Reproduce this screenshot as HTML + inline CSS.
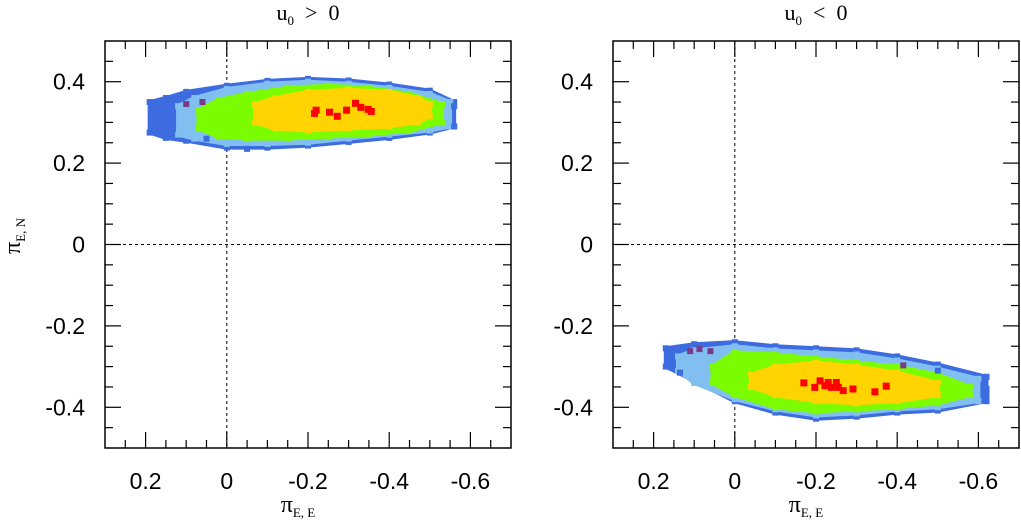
<!DOCTYPE html>
<html><head><meta charset="utf-8"><style>
body{margin:0;background:#fff;width:1021px;height:521px;overflow:hidden}
svg text{font-family:"Liberation Sans",sans-serif}
.ser{font-family:"Liberation Serif",serif}
</style></head><body>
<svg id="c" width="1021" height="521" viewBox="0 0 1021 521" xmlns="http://www.w3.org/2000/svg"></svg>
<script>
const xTicks=[0.2,0,-0.2,-0.4,-0.6];
const xTickLabels=["0.2","0","-0.2","-0.4","-0.6"];
const yTicks=[0.4,0.2,0,-0.2,-0.4];
const yTickLabels=["0.4","0.2","0","-0.2","-0.4"];
const levelNames=["dark-blue","light-blue","green","yellow"];
const levelColors=["#3d6be0","#80bff0","#7cfc00","#ffd400"];
// left panel (u0>0): columns [x, yTop, yBottom]
const leftDarkBlue=[[0.19,0.35,0.275],[0.15,0.36,0.262],[0.1,0.375,0.255],[0,0.39,0.238],[-0.1,0.402,0.238],[-0.2,0.407,0.243],[-0.3,0.403,0.252],[-0.4,0.393,0.262],[-0.5,0.378,0.275],[-0.56,0.35,0.29]];
const leftLightBlue=[[0.12,0.34,0.27],[0.08,0.36,0.26],[0,0.382,0.247],[-0.1,0.395,0.247],[-0.2,0.40,0.25],[-0.3,0.395,0.26],[-0.4,0.385,0.27],[-0.5,0.37,0.28],[-0.55,0.35,0.29]];
const leftGreen=[[0.07,0.33,0.285],[0.02,0.355,0.265],[-0.05,0.37,0.26],[-0.15,0.385,0.26],[-0.25,0.39,0.265],[-0.35,0.385,0.27],[-0.45,0.37,0.28],[-0.53,0.345,0.30]];
const leftYellow=[[-0.07,0.345,0.30],[-0.12,0.36,0.285],[-0.2,0.375,0.28],[-0.3,0.38,0.285],[-0.4,0.375,0.29],[-0.47,0.36,0.30],[-0.5,0.345,0.315]];
const leftRed=[[-0.22,0.33],[-0.216,0.322],[-0.253,0.325],[-0.272,0.315],[-0.295,0.33],[-0.317,0.347],[-0.33,0.337],[-0.348,0.332],[-0.356,0.327]];
const leftPurple=[[0.1,0.345],[0.06,0.35]];
const leftOutliers=[[0.18,0.33],[0.185,0.305],[0.18,0.285],[0.16,0.29],[-0.05,0.235],[0.05,0.26],[-0.56,0.34],[-0.56,0.29]];
// right panel (u0<0)
const rightDarkBlue=[[0.17,-0.255,-0.30],[0.1,-0.245,-0.335],[0,-0.24,-0.385],[-0.1,-0.25,-0.413],[-0.2,-0.255,-0.428],[-0.3,-0.26,-0.423],[-0.4,-0.275,-0.413],[-0.5,-0.295,-0.408],[-0.62,-0.325,-0.385]];
const rightLightBlue=[[0.14,-0.275,-0.31],[0.1,-0.26,-0.34],[0,-0.25,-0.38],[-0.1,-0.26,-0.405],[-0.2,-0.265,-0.42],[-0.3,-0.27,-0.415],[-0.4,-0.285,-0.405],[-0.5,-0.305,-0.40],[-0.6,-0.33,-0.385]];
const rightGreen=[[0.055,-0.30,-0.34],[0,-0.265,-0.37],[-0.1,-0.27,-0.40],[-0.2,-0.28,-0.41],[-0.3,-0.29,-0.405],[-0.4,-0.30,-0.40],[-0.5,-0.32,-0.39],[-0.58,-0.35,-0.37]];
const rightYellow=[[-0.04,-0.32,-0.35],[-0.1,-0.30,-0.37],[-0.2,-0.29,-0.385],[-0.3,-0.30,-0.39],[-0.4,-0.315,-0.385],[-0.5,-0.34,-0.37]];
const rightRed=[[-0.17,-0.34],[-0.197,-0.351],[-0.21,-0.335],[-0.23,-0.339],[-0.238,-0.351],[-0.25,-0.339],[-0.267,-0.359],[-0.291,-0.355],[-0.345,-0.362],[-0.373,-0.348],[-0.222,-0.347],[-0.255,-0.351]];
const rightPurple=[[0.11,-0.262],[0.087,-0.257],[0.06,-0.262],[-0.415,-0.297]];
const rightOutliers=[[0.165,-0.283],[0.135,-0.315],[-0.5,-0.31],[-0.62,-0.355],[-0.62,-0.37]];

const NS="http://www.w3.org/2000/svg";
const svg=document.getElementById('c');
function mk(tag,attrs,parent){const e=document.createElementNS(NS,tag);for(const k in attrs)e.setAttribute(k,attrs[k]);(parent||svg).appendChild(e);return e;}

function panel(x0,name,title,layers,red,purple,outl){
  const W=406,top=41,H=407;
  const sx=v=>x0+(0.3-v)/1.0*W;
  const sy=v=>top+(0.5-v)/1.0*H;
  const g=mk('g',{});
  
  
  const zx=mk('line',{x1:sx(0),x2:sx(0),y1:top,y2:top+H,stroke:'#000','stroke-width':1,'stroke-dasharray':'3,3'},g);
  
  
  const zy=mk('line',{x1:x0,x2:x0+W,y1:sy(0),y2:sy(0),stroke:'#000','stroke-width':1,'stroke-dasharray':'3,3'},g);
  
  
  layers.forEach((L,i)=>{
    const pts=L.map(c=>sx(c[0])+','+sy(c[1])).concat(L.slice().reverse().map(c=>sx(c[0])+','+sy(c[2])));
    const p=mk('polygon',{points:pts.join(' '),fill:levelColors[i],stroke:levelColors[i],'stroke-width':4,'stroke-linejoin':'round'},g);
    
    
    L.forEach(c=>{[c[1],c[2]].forEach(v=>{
      const r=mk('rect',{x:sx(c[0])-3,y:sy(v)-3,width:6,height:6,fill:levelColors[i]},g);
      
      
    });});
  });
  outl.forEach(c=>{const r=mk('rect',{x:sx(c[0])-3,y:sy(c[1])-3,width:6,height:6,fill:levelColors[0]},g);
    
    });
  purple.forEach(c=>{const r=mk('rect',{x:sx(c[0])-3,y:sy(c[1])-3,width:6,height:6,fill:'#7a3a8a'},g);
    
    });
  red.forEach(c=>{const r=mk('rect',{x:sx(c[0])-3.5,y:sy(c[1])-3.5,width:7,height:7,fill:'#ff0000'},g);
    
    });
  const f=mk('rect',{x:x0,y:top,width:W,height:H,fill:'none',stroke:'#000','stroke-width':1.5},g);
  
  
  for(let k=-14;k<=6;k++){const v=k*0.05;const px=sx(v);if(px<x0+1||px>x0+W-1)continue;
    const major=Math.abs(Math.round(v*100)%20)===0;const len=major?16:8;
    mk('line',{x1:px,x2:px,y1:top,y2:top+len,stroke:'#000','stroke-width':1.2},g);
    mk('line',{x1:px,x2:px,y1:top+H,y2:top+H-len,stroke:'#000','stroke-width':1.2},g);}
  for(let k=-10;k<=10;k++){const v=k*0.05;const py=sy(v);if(py<top+1||py>top+H-1)continue;
    const major=Math.abs(Math.round(v*100)%20)===0;const len=major?16:8;
    mk('line',{x1:x0,x2:x0+len,y1:py,y2:py,stroke:'#000','stroke-width':1.2},g);
    mk('line',{x1:x0+W,x2:x0+W-len,y1:py,y2:py,stroke:'#000','stroke-width':1.2},g);}
  xTicks.forEach((v,i)=>{const t=mk('text',{x:sx(v),y:489,'text-anchor':'middle','font-size':23},g);t.textContent=xTickLabels[i];
    
    });
  yTicks.forEach((v,i)=>{const t=mk('text',{x:x0-20,y:sy(v)+8,'text-anchor':'end','font-size':23},g);t.textContent=yTickLabels[i];
    
    });
  const tt=mk('text',{x:x0+W/2,y:20,'text-anchor':'middle','font-size':22,class:'ser'},g);
  tt.innerHTML='u<tspan font-size="13" dy="5">0</tspan><tspan dy="-5" xml:space="preserve">  '+title+'</tspan>';
  
  
  const xt=mk('text',{x:x0+W/2-10,y:512,'text-anchor':'middle','font-size':24,class:'ser'},g);
  xt.innerHTML='π<tspan font-size="13" dy="5">E, E</tspan>';
  
  
}
panel(105,'left-panel','&gt;  0',[leftDarkBlue,leftLightBlue,leftGreen,leftYellow],leftRed,leftPurple,leftOutliers);
panel(613,'right-panel','&lt;  0',[rightDarkBlue,rightLightBlue,rightGreen,rightYellow],rightRed,rightPurple,rightOutliers);
const yl=mk('text',{x:0,y:0,'text-anchor':'middle','font-size':24,class:'ser',transform:'translate(20,236) rotate(-90)'});
yl.innerHTML='π<tspan font-size="13" dy="5">E, N</tspan>';


</script>
</body></html>
